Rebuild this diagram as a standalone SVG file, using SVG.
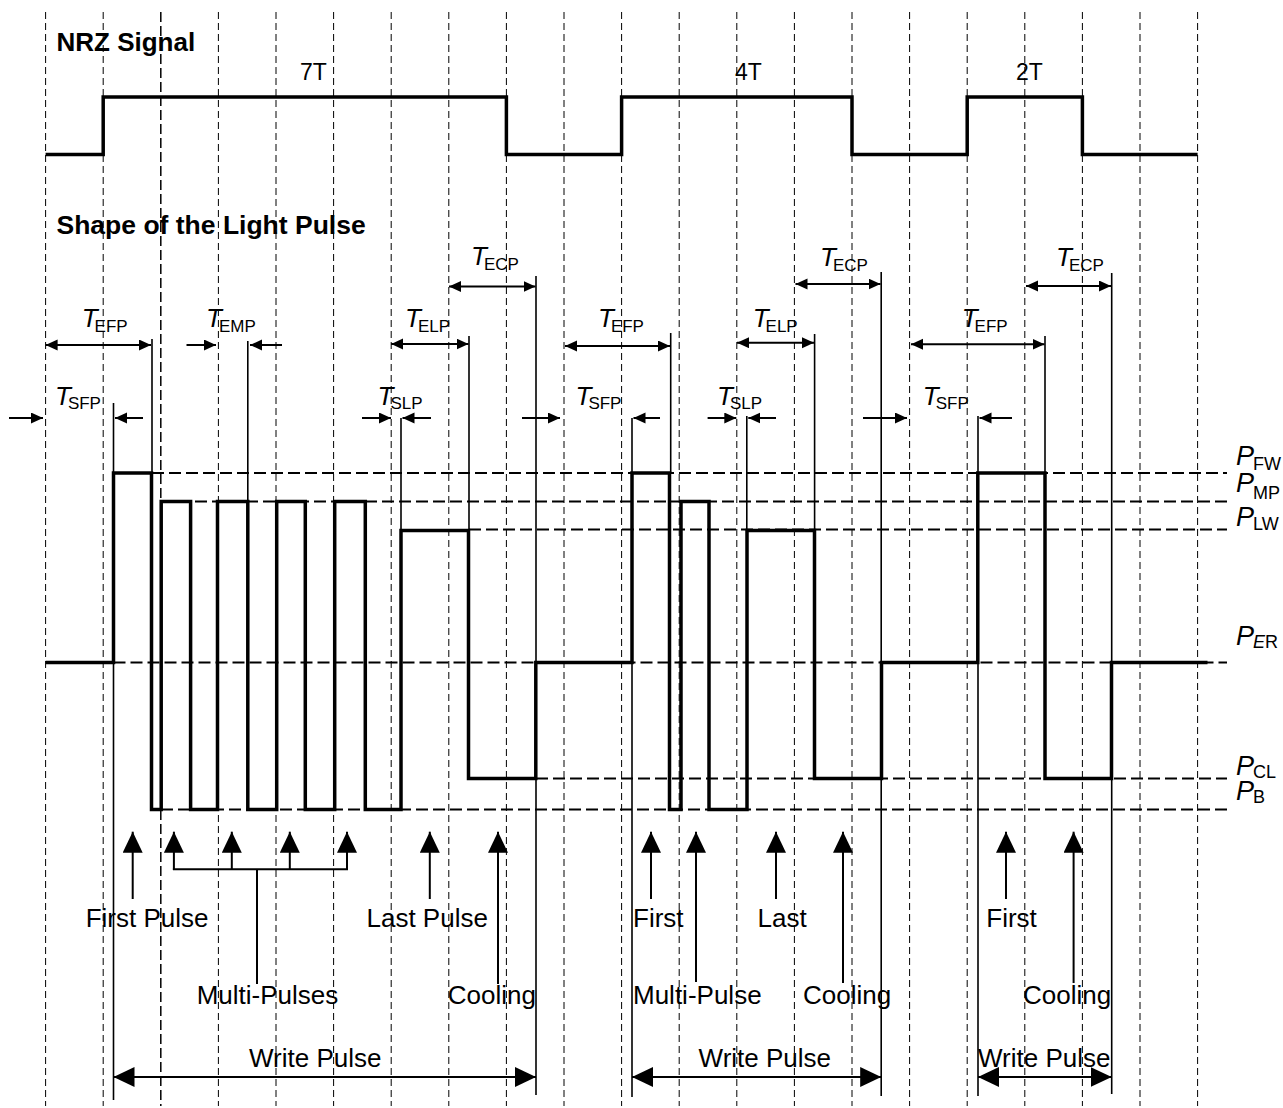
<svg xmlns="http://www.w3.org/2000/svg" width="1283" height="1108" viewBox="0 0 1283 1108">
<style>
text{font-family:"Liberation Sans",Arial,sans-serif;fill:#000}
.title{font-weight:bold;font-size:26px}
.lbl{font-size:26px}
.tl{font-size:23px}
.T{font-size:26px;font-style:italic}
.sub{font-size:17px;font-style:normal}
.P{font-size:27px;font-style:italic}
.psub{font-size:18px;font-style:normal}
.grid line{stroke:#000;stroke-width:1;stroke-dasharray:7 4}
.lvl line{stroke:#000;stroke-width:2;stroke-dasharray:12 5}
.wave{fill:none;stroke:#000;stroke-width:3.5;stroke-linejoin:miter}
.ext line{stroke:#000;stroke-width:1.6}
.dim line{stroke:#000;stroke-width:2}
.dd{marker-start:url(#sa);marker-end:url(#sa)}
.d1{marker-end:url(#sa)}
.up line{stroke:#000;stroke-width:2}
.ua{marker-end:url(#ba)}
.wp{marker-start:url(#ba);marker-end:url(#ba)}
</style>
<defs>
<marker id="sa" markerUnits="userSpaceOnUse" markerWidth="13" markerHeight="12" refX="12" refY="5.5" orient="auto-start-reverse"><path d="M0,0 L12,5.5 L0,11 z" fill="#000"/></marker>
<marker id="ba" markerUnits="userSpaceOnUse" markerWidth="22" markerHeight="21" refX="21" refY="10" orient="auto-start-reverse"><path d="M0,0 L21,10 L0,20 z" fill="#000"/></marker>
</defs>
<rect width="1283" height="1108" fill="#fff"/>
<g id="grid" class="grid">
<line x1="45.6" y1="12" x2="45.6" y2="1106"/>
<line x1="103.2" y1="12" x2="103.2" y2="1106"/>
<line x1="160.8" y1="12" x2="160.8" y2="1106" style="stroke-width:1.5;stroke-dasharray:10 4"/>
<line x1="218.4" y1="12" x2="218.4" y2="1106"/>
<line x1="276" y1="12" x2="276" y2="1106"/>
<line x1="333.6" y1="12" x2="333.6" y2="1106"/>
<line x1="391.2" y1="12" x2="391.2" y2="1106"/>
<line x1="448.8" y1="12" x2="448.8" y2="1106"/>
<line x1="506.4" y1="12" x2="506.4" y2="1106"/>
<line x1="564" y1="12" x2="564" y2="1106"/>
<line x1="621.6" y1="12" x2="621.6" y2="1106"/>
<line x1="679.2" y1="12" x2="679.2" y2="1106"/>
<line x1="736.8" y1="12" x2="736.8" y2="1106"/>
<line x1="794.4" y1="12" x2="794.4" y2="1106"/>
<line x1="852" y1="12" x2="852" y2="1106"/>
<line x1="909.6" y1="12" x2="909.6" y2="1106"/>
<line x1="967.2" y1="12" x2="967.2" y2="1106"/>
<line x1="1024.8" y1="12" x2="1024.8" y2="1106"/>
<line x1="1082.4" y1="12" x2="1082.4" y2="1106"/>
<line x1="1140" y1="12" x2="1140" y2="1106"/>
<line x1="1197.6" y1="12" x2="1197.6" y2="1106"/>
</g>
<g id="nrz-signal">
<text class="title" x="56.5" y="50.7">NRZ Signal</text>
<path class="wave" d="M45.6,154.5 H103.2 V97 H506.4 V154.5 H621.6 V97 H852 V154.5 H967.2 V97 H1082.4 V154.5 H1197.6"/>
<text class="tl" x="300" y="80">7T</text>
<text class="tl" x="735" y="80">4T</text>
<text class="tl" x="1016" y="80">2T</text>
</g>
<g id="power-levels" class="lvl">
<line x1="152" y1="473" x2="1227" y2="473"/>
<line x1="161" y1="501.5" x2="1227" y2="501.5"/>
<line x1="469" y1="529.5" x2="1227" y2="529.5"/>
<line x1="113.5" y1="662.5" x2="1227" y2="662.5"/>
<line x1="536" y1="778.5" x2="1227" y2="778.5"/>
<line x1="161" y1="809.5" x2="1227" y2="809.5"/>
</g>
<g id="power-labels">
<text class="P" x="1236" y="465">P<tspan class="psub" dx="-1" dy="5">FW</tspan></text>
<text class="P" x="1236" y="492">P<tspan class="psub" dx="-1" dy="7">MP</tspan></text>
<text class="P" x="1236" y="526">P<tspan class="psub" dx="-1" dy="4">LW</tspan></text>
<text class="P" x="1236" y="645">P<tspan class="psub" dx="-1" dy="3" style="font-style:italic">E</tspan><tspan class="psub">R</tspan></text>
<text class="P" x="1236" y="775">P<tspan class="psub" dx="-1" dy="3">CL</tspan></text>
<text class="P" x="1236" y="800">P<tspan class="psub" dx="-1" dy="3">B</tspan></text>
</g>
<g id="light-pulse">
<text class="title" x="56.5" y="234.3" style="font-size:26.5px">Shape of the Light Pulse</text>
<path class="wave" d="M45.6,662.5 H113.5 V473 H151.5 V809.5 H161.2 V501.5 H190.6 V809.5 H217.5 V501.5 H247.8 V809.5 H276.7 V501.5 H305.3 V809.5 H334.7 V501.5 H365.3 V809.5 H401 V530.5 H468.5 V778.5 H535.8 V662.5 H632 V473 H669.5 V809.5 H681 V501.5 H709 V809.5 H747 V530.5 H814.5 V778.5 H881.5 V662.5 H977.8 V473 H1045 V778.5 H1111.5 V662.5 H1207.5"/>
</g>
<g id="connectors">
<g class="ext">
<line x1="113.5" y1="403" x2="113.5" y2="1100"/>
<line x1="152" y1="339" x2="152" y2="473"/>
<line x1="247.8" y1="341" x2="247.8" y2="502"/>
<line x1="401" y1="418" x2="401" y2="531"/>
<line x1="469" y1="336" x2="469" y2="531"/>
<line x1="536" y1="276" x2="536" y2="1095"/>
<line x1="632" y1="418" x2="632" y2="1097"/>
<line x1="670.7" y1="333" x2="670.7" y2="473"/>
<line x1="746.8" y1="416" x2="746.8" y2="531"/>
<line x1="814.6" y1="334" x2="814.6" y2="531"/>
<line x1="881.2" y1="272" x2="881.2" y2="1096"/>
<line x1="978" y1="416" x2="978" y2="1096"/>
<line x1="1045" y1="336" x2="1045" y2="474"/>
<line x1="1111.7" y1="273" x2="1111.7" y2="1094"/>
</g>
<g class="dim">
<line class="dd" x1="45.6" y1="345" x2="151" y2="345"/>
<line class="d1" x1="186.5" y1="345" x2="216" y2="345"/>
<line class="d1" x1="282" y1="345" x2="250" y2="345"/>
<line class="dd" x1="391.2" y1="344" x2="468.5" y2="344"/>
<line class="dd" x1="449" y1="286.5" x2="535.5" y2="286.5"/>
<line class="d1" x1="9" y1="418" x2="43" y2="418"/>
<line class="d1" x1="143" y1="418" x2="115" y2="418"/>
<line class="d1" x1="362" y1="418" x2="391" y2="418"/>
<line class="d1" x1="431" y1="418" x2="402.5" y2="418"/>
<line class="d1" x1="522" y1="418" x2="560" y2="418"/>
<line class="d1" x1="660" y1="418" x2="633.5" y2="418"/>
<line class="dd" x1="565" y1="346" x2="670" y2="346"/>
<line class="d1" x1="707.6" y1="418" x2="736.3" y2="418"/>
<line class="d1" x1="776" y1="418" x2="748.3" y2="418"/>
<line class="dd" x1="737" y1="342.7" x2="814" y2="342.7"/>
<line class="dd" x1="795.5" y1="284" x2="880.5" y2="284"/>
<line class="d1" x1="863" y1="418" x2="907" y2="418"/>
<line class="d1" x1="1012" y1="418" x2="979.5" y2="418"/>
<line class="dd" x1="911" y1="344.3" x2="1044.5" y2="344.3"/>
<line class="dd" x1="1026" y1="286" x2="1111" y2="286"/>
</g>
<g class="up">
<line class="ua" x1="132.7" y1="899" x2="132.7" y2="831.7"/>
<line class="ua" x1="173.9" y1="870" x2="173.9" y2="831.7"/>
<line class="ua" x1="231.8" y1="870" x2="231.8" y2="831.7"/>
<line class="ua" x1="289.8" y1="870" x2="289.8" y2="831.7"/>
<line class="ua" x1="347" y1="870" x2="347" y2="831.7"/>
<line x1="172.9" y1="869.3" x2="348" y2="869.3"/>
<line x1="257" y1="869.3" x2="257" y2="984"/>
<line class="ua" x1="429.8" y1="899" x2="429.8" y2="831.7"/>
<line class="ua" x1="498" y1="984" x2="498" y2="831.7"/>
<line class="ua" x1="651" y1="899" x2="651" y2="831.7"/>
<line class="ua" x1="696" y1="982" x2="696" y2="831.7"/>
<line class="ua" x1="776" y1="899" x2="776" y2="831.7"/>
<line class="ua" x1="843" y1="983" x2="843" y2="831.7"/>
<line class="ua" x1="1006" y1="899" x2="1006" y2="831.7"/>
<line class="ua" x1="1073.6" y1="983" x2="1073.6" y2="831.7"/>
<line class="wp" x1="113.5" y1="1077" x2="536" y2="1077"/>
<line class="wp" x1="632" y1="1077" x2="881.2" y2="1077"/>
<line class="wp" x1="978" y1="1077" x2="1111.7" y2="1077"/>
</g>
</g>
<g id="timing-labels">
<text class="T" x="81.7" y="327">T<tspan class="sub" dx="-3" dy="5">EFP</tspan></text>
<text class="T" x="206" y="327">T<tspan class="sub" dx="-3" dy="5">EMP</tspan></text>
<text class="T" x="405" y="327">T<tspan class="sub" dx="-3" dy="5">ELP</tspan></text>
<text class="T" x="471" y="265">T<tspan class="sub" dx="-3" dy="5">ECP</tspan></text>
<text class="T" x="55" y="405">T<tspan class="sub" dx="-3" dy="4">SFP</tspan></text>
<text class="T" x="377.5" y="405">T<tspan class="sub" dx="-3" dy="4">SLP</tspan></text>
<text class="T" x="575.5" y="405">T<tspan class="sub" dx="-3" dy="4">SFP</tspan></text>
<text class="T" x="598" y="327">T<tspan class="sub" dx="-3" dy="5">EFP</tspan></text>
<text class="T" x="717" y="405">T<tspan class="sub" dx="-3" dy="4">SLP</tspan></text>
<text class="T" x="752.7" y="327">T<tspan class="sub" dx="-3" dy="5">ELP</tspan></text>
<text class="T" x="820" y="266">T<tspan class="sub" dx="-3" dy="5">ECP</tspan></text>
<text class="T" x="922.8" y="405">T<tspan class="sub" dx="-3" dy="4">SFP</tspan></text>
<text class="T" x="961.7" y="327">T<tspan class="sub" dx="-3" dy="5">EFP</tspan></text>
<text class="T" x="1056" y="266">T<tspan class="sub" dx="-3" dy="5">ECP</tspan></text>
</g>
<g id="pulse-labels">
<text class="lbl" x="85.7" y="926.7">First Pulse</text>
<text class="lbl" x="366.5" y="926.7">Last Pulse</text>
<text class="lbl" x="196.7" y="1004">Multi-Pulses</text>
<text class="lbl" x="447.8" y="1004">Cooling</text>
<text class="lbl" x="249" y="1066.7">Write Pulse</text>
<text class="lbl" x="633" y="926.7">First</text>
<text class="lbl" x="757.6" y="926.7">Last</text>
<text class="lbl" x="633" y="1004">Multi-Pulse</text>
<text class="lbl" x="803" y="1004">Cooling</text>
<text class="lbl" x="698.6" y="1066.7">Write Pulse</text>
<text class="lbl" x="986.3" y="926.7">First</text>
<text class="lbl" x="1023" y="1004">Cooling</text>
<text class="lbl" x="978" y="1066.7">Write Pulse</text>
</g>
</svg>
